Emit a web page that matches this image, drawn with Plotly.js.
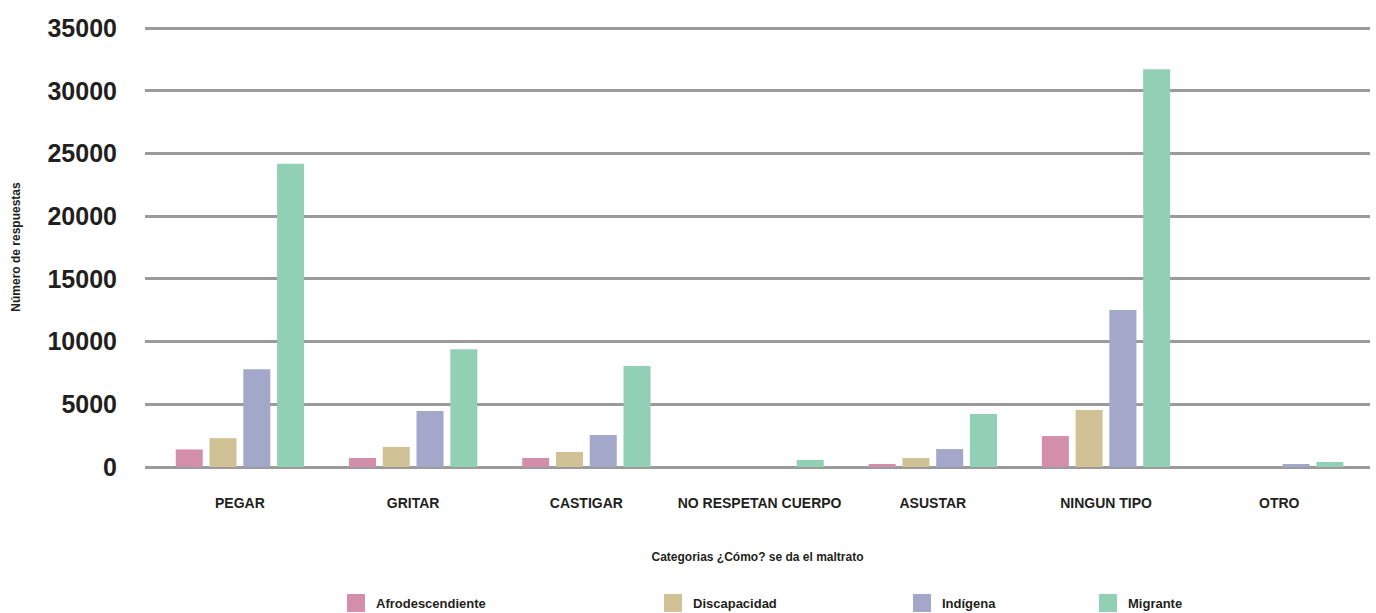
<!DOCTYPE html>
<html>
<head>
<meta charset="utf-8">
<script src="https://cdn.plot.ly/plotly-3.0.1.min.js"></script>
<style>
html,body{margin:0;padding:0;background:#fff;}
#chart{width:1376px;height:613px;}
#chart .legendpoints path{transform: translate(20px, 0px) scale(1.5);}
</style>
</head>
<body>
<div id="chart"></div>
<script>
const categories = ['PEGAR','GRITAR','CASTIGAR','NO RESPETAN CUERPO','ASUSTAR','NINGUN TIPO','OTRO'];
const afrodescendiente = [1400, 720, 720, 0, 240, 2470, 0];
const discapacidad = [2300, 1600, 1200, 0, 720, 4540, 0];
const indigena = [7800, 4460, 2550, 0, 1430, 12520, 240];
const migrante = [24200, 9400, 8050, 560, 4220, 31730, 400];
const seriesNames = ['Afrodescendiente','Discapacidad','Indígena','Migrante'];
const seriesColors = ['#d38faa','#d1c295','#a3a8cb','#92d0b5'];
const yTicks = [0,5000,10000,15000,20000,25000,30000,35000];

const FONT = '"Liberation Sans", Arial, sans-serif';
const allValues = [afrodescendiente, discapacidad, indigena, migrante];
const legendXpx = [336, 653, 902, 1088];

const traces = allValues.map((vals, i) => ({
  type: 'bar',
  name: seriesNames[i],
  x: categories,
  y: vals,
  marker: {color: seriesColors[i]},
  legend: i === 0 ? 'legend' : 'legend' + (i + 1),
  hoverinfo: 'x+y+name'
}));

const legendBase = {
  orientation: 'h',
  xanchor: 'left',
  yanchor: 'middle',
  xref: 'container',
  yref: 'container',
  y: 10 / 613,
  font: {family: FONT, size: 13, color: '#231f20', weight: 'bold'},
  bgcolor: 'rgba(0,0,0,0)',
  itemwidth: 30
};

const layout = {
  width: 1376,
  height: 613,
  margin: {l: 145, r: 6, t: 27, b: 146},
  paper_bgcolor: '#ffffff',
  plot_bgcolor: '#ffffff',
  barmode: 'group',
  bargap: 0.22,
  bargroupgap: 0.2,
  font: {family: FONT, color: '#231f20'},
  showlegend: true,
  xaxis: {
    type: 'category',
    range: [-0.548, 6.524],
    tickfont: {family: FONT, size: 14, color: '#231f20', weight: 'bold'},
    ticks: '',
    ticklabelstandoff: 26,
    showgrid: false,
    showline: false,
    zeroline: false,
    title: {text: 'Categorias ¿Cómo? se da el maltrato', font: {family: FONT, size: 12, color: '#231f20', weight: 'bold'}, standoff: 42}
  },
  yaxis: {
    range: [0, 35100],
    tickvals: yTicks,
    ticktext: yTicks.map(String),
    tickfont: {family: FONT, size: 25, color: '#231f20', weight: 'bold'},
    ticks: '',
    ticklabelstandoff: 27,
    showgrid: true,
    gridcolor: '#9b9b9b',
    gridwidth: 3,
    zeroline: true,
    zerolinecolor: '#9b9b9b',
    zerolinewidth: 3,
    showline: false,
    title: {text: 'Número de respuestas', font: {family: FONT, size: 12, color: '#231f20', weight: 'bold'}, standoff: 24}
  }
};

seriesNames.forEach((n, i) => {
  const key = i === 0 ? 'legend' : 'legend' + (i + 1);
  layout[key] = Object.assign({}, legendBase, {x: legendXpx[i] / 1376});
});

Plotly.newPlot('chart', traces, layout, {displayModeBar: false, responsive: false});
</script>
</body>
</html>
